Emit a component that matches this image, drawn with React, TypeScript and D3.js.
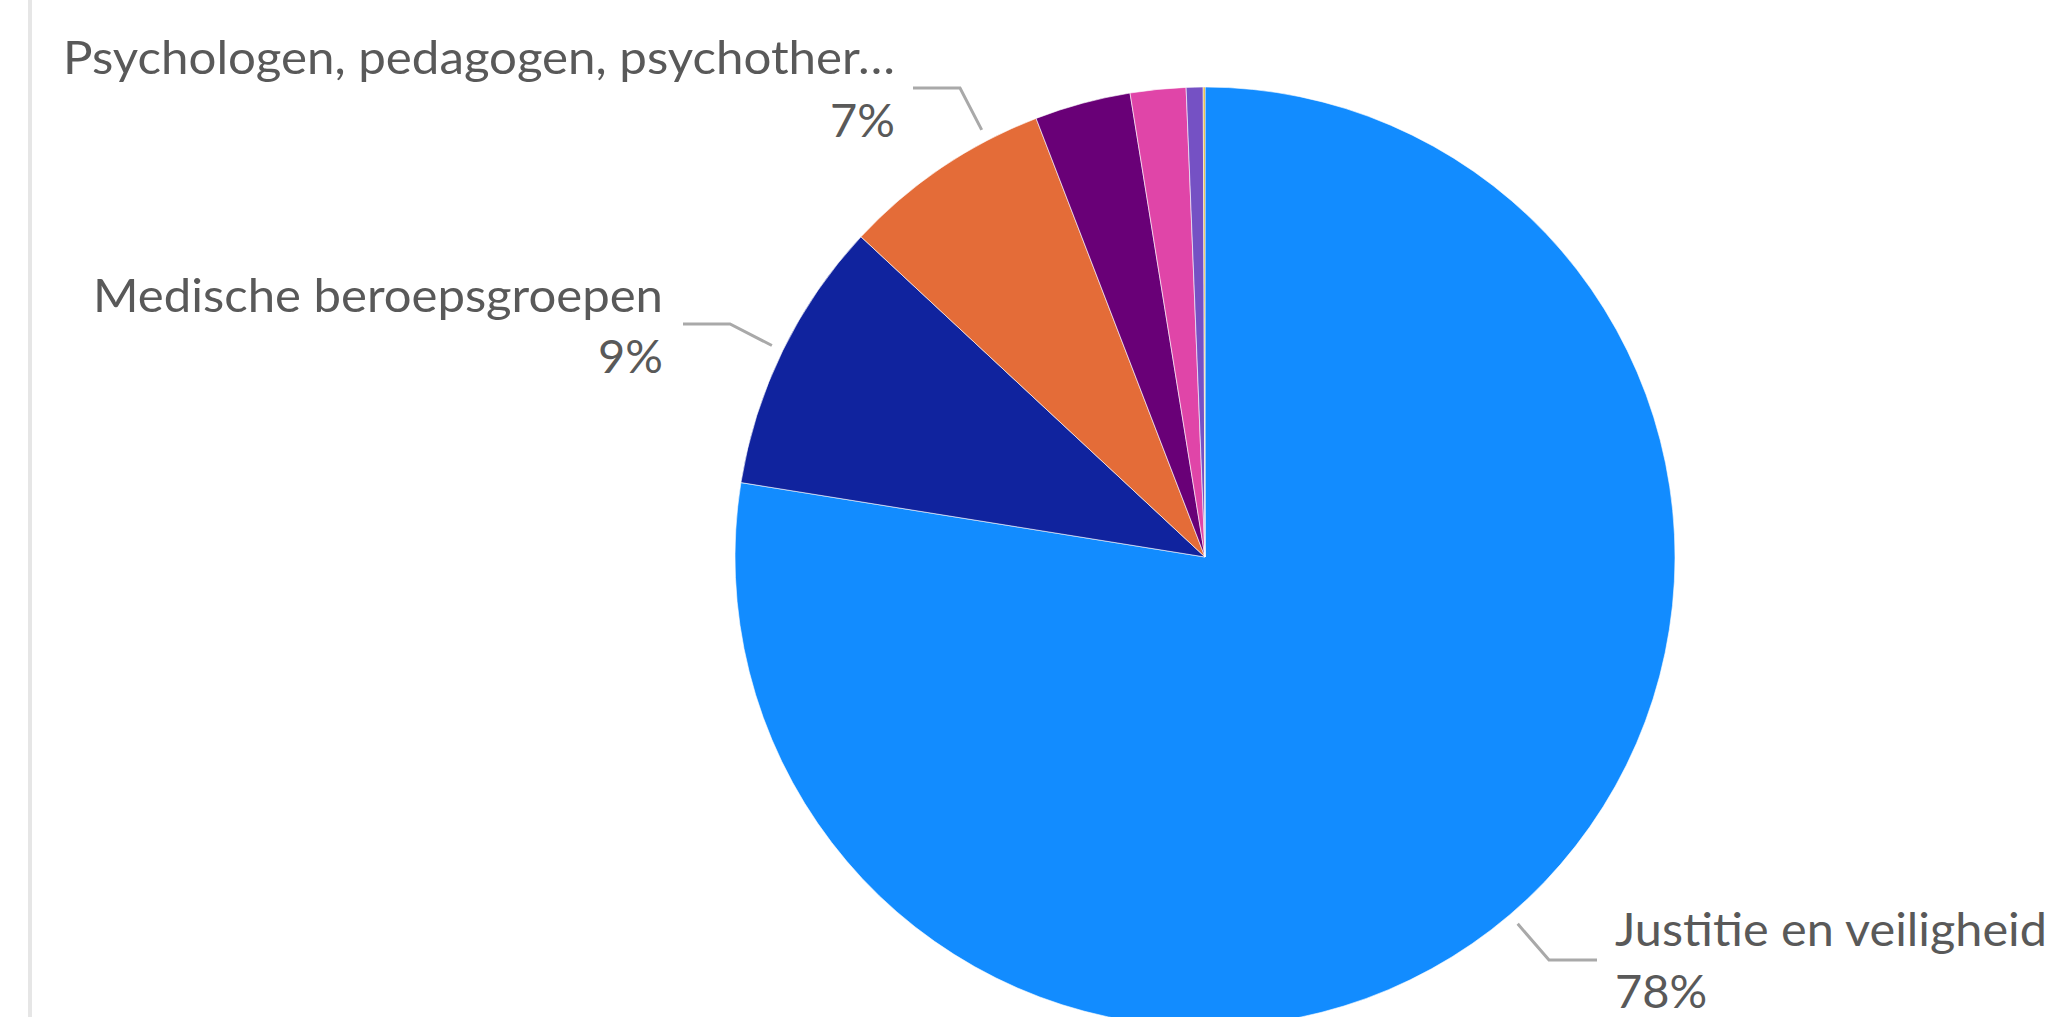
import React from "react";
import * as d3 from "d3";

const categories = [
  "Justitie en veiligheid",
  "Medische beroepsgroepen",
  "Psychologen, pedagogen, psychother…",
  "Onderwijs",
  "Jeugdzorg",
  "Maatschappelijk werk",
  "Overig",
];
const values = [77.53, 9.4, 7.22, 3.3, 1.91, 0.58, 0.06];
const percentLabels = ["78%", "9%", "7%", "", "", "", ""];
const colors = ["#128CFF", "#10239E", "#E46C38", "#690077", "#E045A8", "#7551C4", "#E0A50C"];

// label layout (only three slices are labelled)
const labelLayout: Record<number, { anchor: "start" | "end"; x: number; y1: number; y2: number; width: number; angle?: number; elbow: [number, number]; end: [number, number] }> = {
  0: { anchor: "start", x: 1615, y1: 946, y2: 1008, width: 432, elbow: [1549, 960], end: [1597, 960] },
  1: { anchor: "end", x: 663, y1: 312, y2: 373, width: 570, elbow: [730, 324], end: [683, 324] },
  2: { anchor: "end", x: 895, y1: 74, y2: 137, width: 832, angle: (332.4 * Math.PI) / 180, elbow: [960, 88], end: [913, 88] },
};

const W = 2059;
const H = 1017;
const cx = 1205;
const cy = 557;
const R = 470;

export default function App() {
  const pie = d3
    .pie<number>()
    .sort(null)
    .value((d) => d)
    .startAngle(0)
    .endAngle(2 * Math.PI);
  const arcs = pie(values);
  const arc = d3.arc<d3.PieArcDatum<number>>().innerRadius(0).outerRadius(R);
  const line = d3.line<[number, number]>();

  return (
    <div style={{ position: "absolute", left: 0, top: 0, width: W, height: H, overflow: "hidden", background: "#fff" }}>
      <svg width={W} height={H} style={{ display: "block" }}>
        <rect x={0} y={0} width={W} height={H} fill="#ffffff" />
        <rect x={28} y={0} width={4} height={H} fill="#E6E6E6" />
        <g transform={`translate(${cx},${cy})`}>
          {arcs.map((a, i) => (
            <path key={i} d={arc(a) || ""} fill={colors[i]} stroke="#ffffff" strokeWidth={0.6} />
          ))}
        </g>
        {arcs.map((a, i) => {
          const L = labelLayout[i];
          if (!L) return null;
          const ang = L.angle !== undefined ? L.angle : (a.startAngle + a.endAngle) / 2;
          const rr = R + 12;
          const start: [number, number] = [cx + rr * Math.sin(ang), cy - rr * Math.cos(ang)];
          return (
            <g key={`l${i}`}>
              <path d={line([start, L.elbow, L.end]) || ""} fill="none" stroke="#A9A9A9" strokeWidth={3} />
              <text
                x={L.x}
                y={L.y1}
                textAnchor={L.anchor}
                fontFamily="Lato, 'Noto Sans', sans-serif"
                fontSize={47}
                fill="#595959"
                textLength={L.width}
                lengthAdjust="spacingAndGlyphs"
              >
                {categories[i]}
              </text>
              <text
                x={L.x}
                y={L.y2}
                textAnchor={L.anchor}
                fontFamily="Lato, 'Noto Sans', sans-serif"
                fontSize={47}
                fill="#595959"
              >
                {percentLabels[i]}
              </text>
            </g>
          );
        })}
      </svg>
    </div>
  );
}
